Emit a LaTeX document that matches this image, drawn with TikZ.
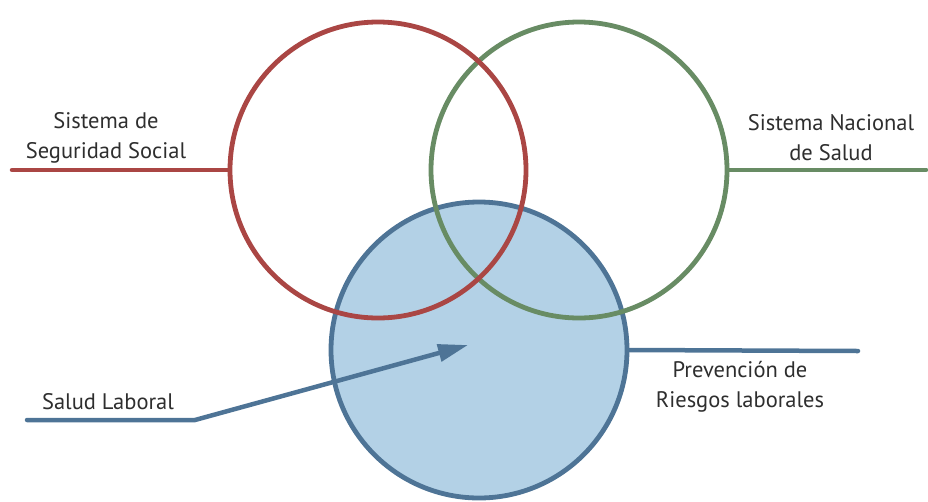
\documentclass[tikz,border=0pt]{standalone}
\usepackage{fontspec}
\setmainfont{PT Sans}
\usetikzlibrary{arrows.meta,positioning}
\definecolor{seg}{HTML}{AA4644}
\definecolor{nac}{HTML}{688C64}
\definecolor{lab}{HTML}{4E7496}
\definecolor{labfill}{HTML}{B3D1E6}
\definecolor{txt}{HTML}{2E2E2E}
\tikzset{
    %Define style for circles
    area/.style={
    circle,
    line width=4.8pt,
    minimum size=296pt,
    inner sep=0pt
   },
    %Define style for labels
    caption/.style={
    align=center,
    font=\fontsize{22.5}{30}\selectfont,
    text=txt,
    inner sep=0pt
   },
    % Define line style
    link/.style={
    line width=4.5pt,
    line cap=round}
}
\begin{document}
\begin{tikzpicture}[x=1pt,y=-1pt,>={Triangle[length=30pt,width=17pt]}]
		\useasboundingbox (0,0) rectangle (928,501);
		%circles
		\node[area, draw=lab, fill=labfill](prl) at (479,350){};
		\node[area, draw=nac](sns) at (579,170){};
		\node[area, draw=seg](sss) at (378,170){};
		%free ends
		\coordinate (sssend) at (12,170);
		\coordinate (snsend) at (926,170);
		\coordinate (prlend) at (858,351);
		\coordinate (slstart) at (27,420);
		\coordinate (slbend) at (195,420);
		\coordinate (sltip) at (468,345);
		%labels
		\node[caption](ssslbl) at (106,138){Sistema de\\Seguridad Social};
		\node[caption](snslbl) at (831,138){Sistema Nacional\\de Salud};
		\node[caption](prllbl) at (740,387){Prevención de\\Riesgos laborales};
		\node[caption](sllbl) at (108,402){Salud Laboral};
		%lines
		\draw[link, seg] (sss.west) -- (sssend);
		\draw[link, nac] (sns.east) -- (snsend);
		\draw[link, lab] (prl.east) -- (prlend);
		\draw[link, lab, ->] (slstart) -- (slbend) -- (sltip);
\end{tikzpicture}
\end{document}
